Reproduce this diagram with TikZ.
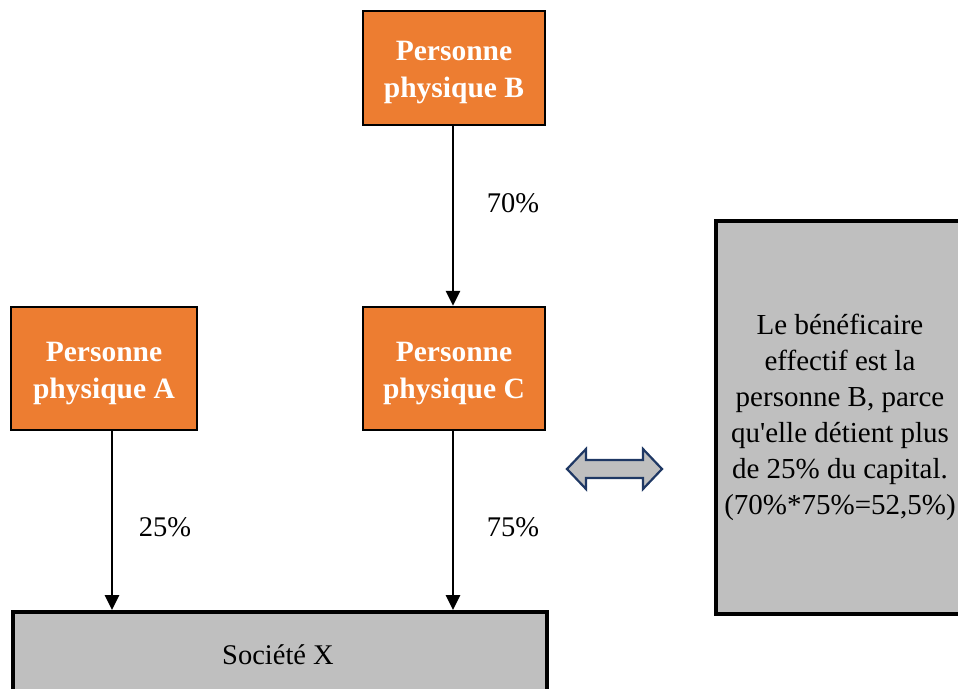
\documentclass[tikz,border=0pt]{standalone}
\usepackage{fontspec}
\setmainfont{Liberation Serif}
\newfontfamily\rawserif{Liberation Serif}
\usetikzlibrary{arrows.meta}
\definecolor{orangebox}{HTML}{ED7D31}
\definecolor{graybox}{HTML}{BFBFBF}
\definecolor{navy}{HTML}{1F3864}
\tikzset{
  person/.style={draw=black, line width=2.5pt, fill=orangebox, inner sep=0pt},
  persontext/.style={text=white, align=center, font=\fontsize{29.5}{37}\selectfont\bfseries, inner sep=0pt},
  graybx/.style={draw=black, line width=3.5pt, fill=graybox, inner sep=0pt},
  conn/.style={line width=2.8pt, -{Triangle[length=15pt,width=14pt]}},
  pct/.style={font=\fontsize{28.5}{32}\selectfont, inner sep=0pt}
}
\begin{document}
\begin{tikzpicture}[x=1pt,y=-1pt]
\useasboundingbox (0,0) rectangle (958,688);
\node[person, minimum width=182pt, minimum height=114pt] (B) at (454,68) {};
\node[persontext] (Bt) at (454,73) {Personne\\physique B};
\node[person, minimum width=186pt, minimum height=123pt] (A) at (104,368.5) {};
\node[persontext] (At) at (104,373.5) {Personne\\physique A};
\node[person, minimum width=182pt, minimum height=123pt] (C) at (454,368.5) {};
\node[persontext] (Ct) at (454,373.5) {Personne\\physique C};
\node[graybx, minimum width=534pt, minimum height=110pt, anchor=north west] (X) at (11,610) {};
\node[font=\fontsize{28.5}{32}\selectfont, inner sep=0pt] (XT) at (278,655) {Société X};
\node[graybx, minimum width=270pt, minimum height=393pt, anchor=north west] (R) at (714,219) {};
\node[align=center, font=\fontsize{29}{36}\selectfont, inner sep=0pt] (RT) at (840,417)
  {Le bénéficaire\\effectif est la\\personne B, parce\\qu{\rawserif'}elle détient plus\\de 25\% du capital.\\(70\%*75\%=52,5\%)};
\draw[conn] (B.south -| 453,0) -- (C.north -| 453,0);
\draw[conn] (A.south -| 112,0) -- (X.north -| 112,0);
\draw[conn] (C.south -| 453,0) -- (X.north -| 453,0);
\node[pct] (p70) at (513,203) {70\%};
\node[pct] (p25) at (165,527) {25\%};
\node[pct] (p75) at (513,527) {75\%};
\draw[navy, line width=2.2pt, fill=graybox, line join=miter]
  (567,469) -- (586,449) -- (586,460) -- (643,460) -- (643,449) -- (662,469)
  -- (643,489) -- (643,478) -- (586,478) -- (586,489) -- cycle;
\end{tikzpicture}
\end{document}
